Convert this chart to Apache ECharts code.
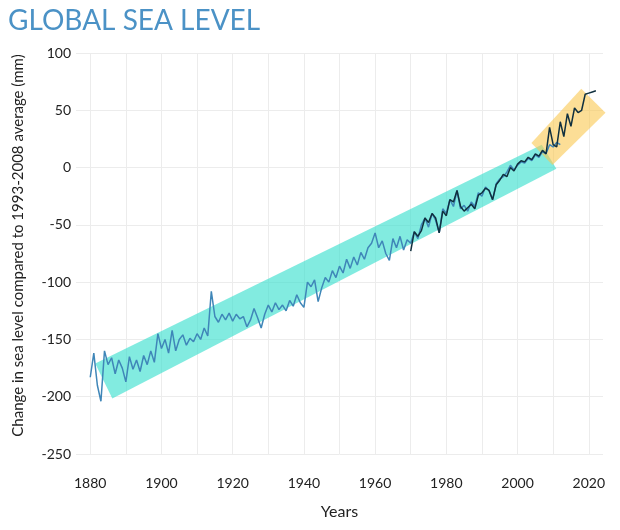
<!DOCTYPE html>
<html>
<head>
<meta charset="utf-8">
<script src="https://cdn.jsdelivr.net/npm/echarts@6/dist/echarts.min.js"></script>
<style>html,body{margin:0;padding:0;background:#fff;}#c{width:620px;height:530px;}</style>
</head>
<body>
<div id="c"></div>
<script>
// ---- Data ----
const titleText = 'GLOBAL SEA LEVEL';
const yAxisName = 'Change in sea level compared to 1993-2008 average (mm)';
const xAxisName = 'Years';

// Reconstructed tide-gauge record (light blue line), annual
const blueYears = [];
for (let y = 1880; y <= 2012; y++) blueYears.push(y);
const blueValues = [
  -183,-162,-190,-204,-160,-172,-166,-180,-168,-175,
  -187,-165,-176,-168,-178,-164,-172,-160,-170,-145,
  -158,-150,-162,-142,-160,-150,-146,-155,-149,-152,
  -145,-150,-140,-147,-108,-130,-135,-128,-133,-127,
  -134,-128,-132,-130,-139,-133,-123,-131,-140,-128,
  -120,-126,-118,-124,-120,-125,-116,-121,-111,-118,
  -122,-100,-104,-98,-117,-105,-96,-100,-90,-96,
  -86,-92,-80,-88,-78,-85,-74,-80,-70,-66,
  -57,-70,-64,-75,-81,-62,-70,-60,-72,-63,
  -66,-56,-62,-50,-44,-52,-40,-46,-57,-36,
  -40,-28,-34,-20,-36,-33,-38,-30,-34,-22,
  -25,-17,-20,-28,-14,-10,-8,-4,2,-2,
  2,5,4,8,6,11,9,14,12,20,
  18,22,20
];

// Recent tide-gauge / satellite record (dark line), annual
const darkYears = [];
for (let y = 1970; y <= 2022; y++) darkYears.push(y);
const darkValues = [
  -73,-56,-60,-55,-44,-48,-40,-44,-57,-38,
  -42,-28,-30,-20,-34,-38,-35,-32,-36,-24,
  -22,-18,-20,-28,-15,-11,-6,-8,0,-3,
  3,6,5,9,7,12,10,15,12,35,
  20,18,40,27,47,36,52,48,50,64,
  65,66,67
];

// Highlight bands (corner points in data units)
const cyanBandYears  = [1881.4, 1886.2, 2010.9, 2006.8];
const cyanBandLevels = [-171, -201.5, -1, 20];
const yellowBandYears  = [2003.9, 2017.9, 2024.7, 2009.8];
const yellowBandLevels = [21.5, 68.8, 47.8, 2.3];

const xTickLabels = [1880, 1900, 1920, 1940, 1960, 1980, 2000, 2020];

// ---- Chart ----
const FONT = 'Lato, "Noto Sans", sans-serif';
const toPairs = (xs, ys) => xs.map((x, i) => [x, ys[i]]);

function bandSeries(xs, ys, color, z) {
  return {
    type: 'custom',
    z: z,
    clip: false,
    silent: true,
    data: toPairs(xs, ys),
    renderItem: function (params, api) {
      if (params.dataIndex !== 0) return null;
      const pts = xs.map((x, i) => api.coord([x, ys[i]]));
      return { type: 'polygon', shape: { points: pts }, style: { fill: color } };
    }
  };
}

const chart = echarts.init(document.getElementById('c'), null, { renderer: 'canvas' });
chart.setOption({
  animation: false,
  backgroundColor: '#fff',
  title: {
    text: titleText, left: 3, top: 2,
    textStyle: { fontFamily: FONT, fontSize: 28, fontWeight: 'normal', color: '#4b92c6' }
  },
  grid: { left: 76, right: 17, top: 53, bottom: 76, containLabel: false },
  xAxis: {
    type: 'value', min: 1876, max: 2024, splitNumber: 15,
    name: xAxisName, nameLocation: 'middle', nameGap: 50,
    nameTextStyle: { fontFamily: FONT, fontSize: 16, color: '#222' },
    axisLine: { show: false }, axisTick: { show: false },
    axisLabel: {
      fontFamily: FONT, fontSize: 14, color: '#222', margin: 22,
      showMinLabel: false, showMaxLabel: false,
      formatter: v => (xTickLabels.indexOf(v) >= 0 ? String(v) : '')
    },
    splitLine: { show: true, showMinLine: false, showMaxLine: false, lineStyle: { color: '#ececec', width: 1 } }
  },
  yAxis: {
    type: 'value', min: -250, max: 100, interval: 50,
    name: yAxisName, nameLocation: 'middle', nameGap: 50,
    nameTextStyle: { fontFamily: FONT, fontSize: 15, color: '#222', padding: [0, 0, 0, 16] },
    axisLine: { show: false }, axisTick: { show: false },
    axisLabel: { fontFamily: FONT, fontSize: 14, color: '#222', margin: 5 },
    splitLine: { show: true, lineStyle: { color: '#ececec', width: 1 } }
  },
  series: [
    bandSeries(cyanBandYears, cyanBandLevels, 'rgba(63,224,208,0.65)', 1),
    bandSeries(yellowBandYears, yellowBandLevels, 'rgba(250,200,80,0.6)', 2),
    {
      type: 'line', z: 3, showSymbol: false, silent: true,
      data: toPairs(blueYears, blueValues),
      lineStyle: { color: '#3f86b8', width: 1.5 }
    },
    {
      type: 'line', z: 4, showSymbol: false, silent: true,
      data: toPairs(darkYears, darkValues),
      lineStyle: { color: '#10303f', width: 1.5 }
    }
  ]
});
</script>
</body>
</html>
